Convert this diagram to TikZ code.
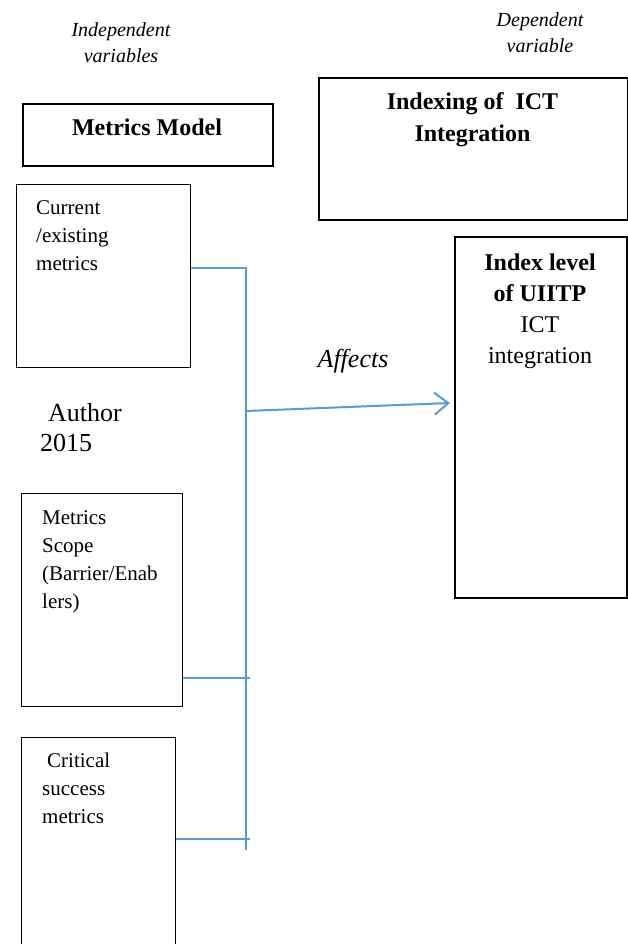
\documentclass[tikz,border=0pt]{standalone}
\usepackage{fontspec}
\setmainfont{Liberation Serif}
\usetikzlibrary{arrows.meta}
\definecolor{lineblue}{RGB}{91,155,213}
\begin{document}
\begin{tikzpicture}[x=1pt,y=-1pt,
  box/.style={draw=black,line width=1pt,inner sep=0pt,anchor=north west},
  heavybox/.style={box,line width=1.7pt},
  bodytext/.style={font=\fontsize{21}{28}\selectfont,inner sep=0pt,anchor=base west,align=left},
  headtext/.style={font=\fontsize{20}{26.5}\selectfont\itshape,inner sep=0pt,anchor=base,align=center},
  boldtext/.style={font=\fontsize{24}{32}\selectfont\bfseries,inner sep=0pt,anchor=base,align=center},
  bigtext/.style={font=\fontsize{26}{30}\selectfont,inner sep=0pt,align=left},
  conn/.style={draw=lineblue,line width=1.2pt},
  arrowconn/.style={draw=lineblue,line width=2pt,-{Straight Barb[length=14pt,width=22pt,line width=2pt]}}
]
\clip (0,0) rectangle (628,944);
\fill[white] (0,0) rectangle (628,944);

% headers (anchor = baseline of last line)
\node[headtext] (indep) at (121,63) {Independent\\variables};
\node[headtext] (dep) at (540,53) {Dependent\\variable};

% boxes
\node[heavybox,minimum width=250pt,minimum height=62pt] (mm) at (22,103) {};
\node[heavybox,minimum width=309pt,minimum height=142pt] (idx) at (318,77) {};
\node[box,minimum width=174pt,minimum height=183pt] (cur) at (16,184) {};
\node[heavybox,line width=2pt,minimum width=172pt,minimum height=361pt] (ilvl) at (454,236) {};
\node[box,minimum width=161pt,minimum height=213pt] (sc) at (21,493) {};
\node[box,minimum width=154pt,minimum height=240pt] (cr) at (21,737) {};

% box texts
\node[boldtext] (mmt) at (147,136) {Metrics Model};
\node[boldtext] (idxt) at (472.5,142) {Indexing of\ \ ICT\\Integration};
\node[bodytext] (curt) at (36,270) {Current\\/existing\\metrics};
\node[boldtext,font=\fontsize{24}{31}\selectfont] (ilvlt) at (540,363) {\textbf{Index level}\\\textbf{of UIITP}\\ICT\\integration};
\node[bodytext] (sct) at (42,608) {Metrics\\Scope\\(Barrier/Enab\\lers)};
\node[bodytext] (crt) at (42,823) {\hspace*{5pt}Critical\\success\\metrics};

% free texts
\node[bigtext,anchor=base west] (auth) at (40,451) {\hspace*{8pt}Author\\2015};
\node[bigtext,anchor=base,font=\fontsize{26}{30}\selectfont\itshape] (aff) at (353,367) {Affects};

% connectors
\coordinate (jtop) at (246,268);
\coordinate (jbot) at (246,850);
\coordinate (jmid) at (246,411);
\coordinate (jsc) at (250,678);
\coordinate (jcr) at (250,839);
\coordinate (atip) at (450,403);

\draw[conn] (cur.east |- jtop) -- (jtop) -- (jbot);
\draw[conn] (sc.east |- jsc) -- (jsc);
\draw[conn] (cr.east |- jcr) -- (jcr);
\draw[arrowconn] (jmid) -- (atip);
\end{tikzpicture}
\end{document}
